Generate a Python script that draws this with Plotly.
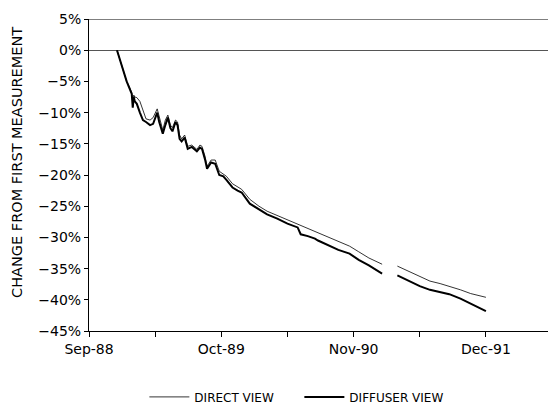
import plotly.graph_objects as go

# months since Sep-88
months = [2.75, 3.2, 3.7, 4.0, 4.2, 4.3, 4.4, 4.5, 4.7, 5.0, 5.3, 5.6, 6.0, 6.3, 6.7, 6.9,
          7.25, 7.5, 7.75, 8.0, 8.2, 8.5, 8.7, 8.9, 9.1, 9.4, 9.7, 10.1, 10.6, 10.9, 11.1,
          11.4, 11.6, 12.0, 12.4, 12.8, 13.2, 13.5, 14.1, 14.6, 15.0, 15.8, 16.7, 17.5,
          18.5, 19.5, 20.5, 20.8, 21.5, 22.2, 22.5, 23.5, 24.5, 25.6, 26.5, 27.5, 28.8,
          None, 30.3, 31.5, 32.5, 33.5, 34.5, 35.4, 36.5, 37.5, 38.3, 39.0]

diffuser_view = [0, -2.5, -5, -6.2, -7.0, -9.2, -7.5, -8.2, -8.6, -10.0, -11.2, -11.5, -12.0,
                 -11.8, -10.0, -11.5, -13.4, -12.0, -10.8, -12.5, -13.0, -11.5, -12.0, -14.2,
                 -14.6, -14.0, -15.8, -15.5, -16.2, -15.6, -15.8, -17.5, -19.0, -18.0, -18.2,
                 -20.0, -20.2, -20.8, -22.0, -22.5, -22.8, -24.6, -25.5, -26.3, -27.0, -27.8,
                 -28.4, -29.5, -29.8, -30.2, -30.5, -31.2, -32.0, -32.6, -33.6, -34.5, -35.8,
                 None, -36.1, -37.0, -37.8, -38.4, -38.8, -39.1, -39.8, -40.6, -41.2, -41.8]

direct_view = [0, -2.5, -5, -6.0, -6.8, -8.5, -7.2, -7.5, -7.6, -8.2, -9.8, -11.0, -11.2,
               -10.8, -9.4, -10.8, -12.8, -11.2, -10.4, -12.0, -12.4, -11.2, -11.5, -13.6,
               -14.2, -13.6, -15.4, -15.2, -15.9, -15.2, -15.4, -17.0, -18.6, -17.6, -17.6,
               -19.4, -19.8, -20.2, -21.4, -21.9, -22.3, -23.9, -25.0, -25.8, -26.5, -27.2,
               -27.8, -28.0, -28.5, -29.0, -29.3, -30.0, -30.7, -31.4, -32.3, -33.3, -34.3,
               None, -34.6, -35.5, -36.3, -37.0, -37.4, -37.8, -38.4, -39.0, -39.3, -39.6]

x_tick_vals = [0, 6.5, 13, 19.5, 26, 32.5, 39]
x_tick_text = ["Sep-88", "", "Oct-89", "", "Nov-90", "", "Dec-91"]
y_tick_vals = [5, 0, -5, -10, -15, -20, -25, -30, -35, -40, -45]
y_tick_text = ["%d%%" % v if v >= 0 else "\u2212%d%%" % abs(v) for v in y_tick_vals]
y_title = "CHANGE FROM FIRST MEASUREMENT"

FONT = "DejaVu Sans"

fig = go.Figure()
fig.add_trace(go.Scatter(x=months, y=direct_view, mode="lines", name="DIRECT VIEW",
                         line=dict(color="black", width=0.8), connectgaps=False))
fig.add_trace(go.Scatter(x=months, y=diffuser_view, mode="lines", name="DIFFUSER VIEW",
                         line=dict(color="black", width=2), connectgaps=False))

# top border line at the 5% level
fig.add_shape(type="line", xref="paper", yref="y", x0=0, x1=1, y0=5, y1=5,
              line=dict(color="black", width=1))

fig.add_annotation(text=y_title, xref="paper", yref="paper", x=-0.158, y=0.54,
                   textangle=-90, showarrow=False, xanchor="center", yanchor="middle",
                   font=dict(size=14.5, family=FONT, color="black"))

fig.update_layout(
    width=551, height=420,
    margin=dict(l=89, r=3, t=19, b=89, autoexpand=False),
    paper_bgcolor="white", plot_bgcolor="white",
    font=dict(family=FONT, color="black", size=14),
    showlegend=True,
    legend=dict(orientation="h", xref="container", yref="container",
                x=0.262, xanchor="left", y=0.055, yanchor="middle",
                entrywidth=100, entrywidthmode="pixels", itemwidth=40,
                font=dict(size=12), bgcolor="rgba(0,0,0,0)"),
    xaxis=dict(range=[0, 45.1], tickvals=x_tick_vals, ticktext=x_tick_text,
               showgrid=False, zeroline=False, showline=True, linecolor="black",
               linewidth=1, mirror=False, ticks="outside", ticklen=5, tickcolor="black",
               tickfont=dict(size=14)),
    yaxis=dict(range=[-45, 5], tickvals=y_tick_vals, ticktext=y_tick_text,
               showgrid=False, zeroline=True, zerolinecolor="#555555", zerolinewidth=1,
               showline=True, linecolor="black", linewidth=1, ticks="outside",
               ticklen=4, tickcolor="black", tickfont=dict(size=14)),
)

fig.write_html("out.html")
